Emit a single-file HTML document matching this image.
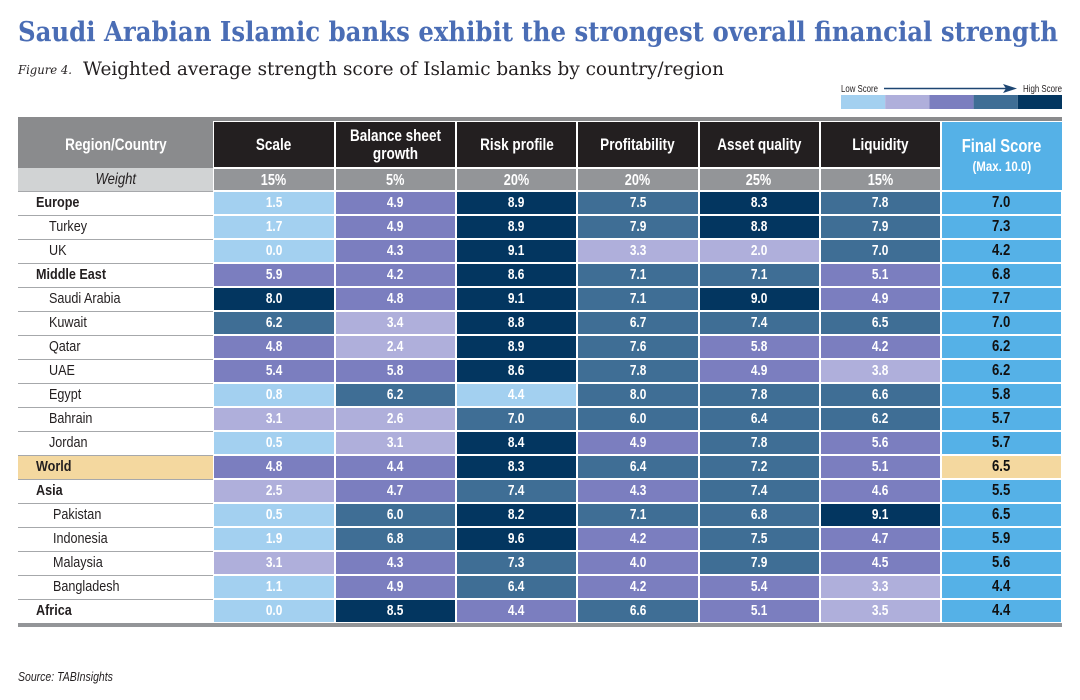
<!DOCTYPE html>
<html>
<head>
<meta charset="utf-8">
<style>
*{margin:0;padding:0;box-sizing:border-box;}
html,body{width:1080px;height:700px;background:#fff;overflow:hidden;}
body{position:relative;font-family:"Liberation Sans",sans-serif;}
.abs{position:absolute;}
.x{display:inline-block;transform:scaleX(.82);transform-origin:50% 50%;white-space:nowrap;}
.xl{display:inline-block;transform:scaleX(.84);transform-origin:0 50%;white-space:nowrap;}
.hdr{position:absolute;top:121px;height:47px;background:#231f20;border:1px solid #fff;color:#fff;font-weight:bold;font-size:16.5px;display:flex;align-items:center;justify-content:center;text-align:center;line-height:18px;padding-top:1px;}
.wt{position:absolute;top:168px;height:23px;background:#939598;border:1px solid #fff;color:#fff;font-weight:bold;font-size:15.5px;display:flex;align-items:center;justify-content:center;padding-top:2px;}
#rows{position:absolute;left:18px;top:190.5px;width:1044px;}
.r{display:flex;height:24.05px;}
.n{width:195px;height:24.05px;border-top:1.5px solid #a6a8ab;font-size:15px;color:#231f20;line-height:22px;padding-left:31px;white-space:nowrap;}
.n.b{font-weight:bold;padding-left:18px;}
.n.s2{padding-left:35px;}
.n.w{background:#f4d89f;}
.c{height:24.05px;border:1px solid #fff;color:#fff;font-weight:bold;font-size:14.5px;display:flex;align-items:center;justify-content:center;}
.c:nth-child(2){width:121.5px;}
.c:nth-child(3){width:121.5px;}
.c:nth-child(4){width:121px;}
.c:nth-child(5){width:121.5px;}
.c:nth-child(6){width:121px;}
.c:nth-child(7){width:121.5px;}
.c:nth-child(8){width:121px;background:#55b1e7;color:#111;font-size:16px;}
.c.fw{background:#f4d89f !important;}
.l1{background:#a3d0f0;}
.l2{background:#afafdb;}
.l3{background:#7b7ebf;}
.l4{background:#3f6e95;}
.l5{background:#033660;}
</style>
</head>
<body>
<svg class="abs" style="left:0;top:0" width="1080" height="110" xmlns="http://www.w3.org/2000/svg">
<text x="18" y="41" font-family="DejaVu Serif, Liberation Serif, serif" font-weight="bold" font-size="27" fill="#4a6db5" textLength="1040" lengthAdjust="spacingAndGlyphs">Saudi Arabian Islamic banks exhibit the strongest overall financial strength</text>
<text x="18" y="74" font-family="DejaVu Serif, Liberation Serif, serif" font-style="italic" font-size="12" fill="#231f20" textLength="54" lengthAdjust="spacingAndGlyphs">Figure 4.</text>
<text x="83" y="75" font-family="DejaVu Serif, Liberation Serif, serif" font-size="19" fill="#231f20" textLength="641" lengthAdjust="spacingAndGlyphs">Weighted average strength score of Islamic banks by country/region</text>
<text x="841" y="92" font-family="Liberation Sans, sans-serif" font-size="10" fill="#231f20" textLength="37" lengthAdjust="spacingAndGlyphs">Low Score</text>
<text x="1023" y="92" font-family="Liberation Sans, sans-serif" font-size="10" fill="#231f20" textLength="39" lengthAdjust="spacingAndGlyphs">High Score</text>
<line x1="884" y1="88.5" x2="1008" y2="88.5" stroke="#1d4672" stroke-width="1.5"/>
<polygon points="1003,84 1017,88.5 1003,93 1006,88.5" fill="#1d4672"/>
<rect x="841" y="95" width="44.2" height="14" fill="#a3d0f0"/>
<rect x="885.2" y="95" width="44.2" height="14" fill="#afafdb"/>
<rect x="929.4" y="95" width="44.2" height="14" fill="#7b7ebf"/>
<rect x="973.6" y="95" width="44.2" height="14" fill="#3f6e95"/>
<rect x="1017.8" y="95" width="44.2" height="14" fill="#033660"/>
</svg>

<div class="abs" style="left:18px;top:117px;width:1044px;height:5px;background:#8a8b8d;"></div>
<div class="abs" style="left:18px;top:117px;width:195px;height:51px;background:#8a8b8d;color:#fff;font-weight:bold;font-size:16.5px;display:flex;align-items:center;justify-content:center;padding-top:5px;"><span class="x">Region/Country</span></div>
<div class="hdr" style="left:213px;width:121.5px;"><span class="x">Scale</span></div>
<div class="hdr" style="left:334.5px;width:121.5px;"><span class="x">Balance sheet<br>growth</span></div>
<div class="hdr" style="left:456px;width:121px;"><span class="x">Risk profile</span></div>
<div class="hdr" style="left:577px;width:121.5px;"><span class="x">Profitability</span></div>
<div class="hdr" style="left:698.5px;width:121px;"><span class="x">Asset quality</span></div>
<div class="hdr" style="left:819.5px;width:121.5px;"><span class="x">Liquidity</span></div>
<div class="abs" style="left:941px;top:121px;width:121px;height:70px;background:#55b1e7;border:1px solid #fff;border-right:none;color:#fff;font-weight:bold;text-align:center;">
<div style="font-size:18px;margin-top:14px;line-height:21px;"><span class="x">Final Score</span></div>
<div style="font-size:14px;line-height:16px;margin-top:1px;"><span class="x">(Max. 10.0)</span></div>
</div>
<div class="abs" style="left:18px;top:168px;width:195px;height:22.5px;background:#d1d3d4;color:#231f20;font-style:italic;font-size:16px;display:flex;align-items:center;justify-content:center;padding-top:2px;"><span class="x">Weight</span></div>
<div class="wt" style="left:213px;width:121.5px;"><span class="x">15%</span></div>
<div class="wt" style="left:334.5px;width:121.5px;"><span class="x">5%</span></div>
<div class="wt" style="left:456px;width:121px;"><span class="x">20%</span></div>
<div class="wt" style="left:577px;width:121.5px;"><span class="x">20%</span></div>
<div class="wt" style="left:698.5px;width:121px;"><span class="x">25%</span></div>
<div class="wt" style="left:819.5px;width:121.5px;"><span class="x">15%</span></div>

<div id="rows">
<div class="r"><div class="n b"><span class="xl">Europe</span></div><div class="c l1"><span class="x">1.5</span></div><div class="c l3"><span class="x">4.9</span></div><div class="c l5"><span class="x">8.9</span></div><div class="c l4"><span class="x">7.5</span></div><div class="c l5"><span class="x">8.3</span></div><div class="c l4"><span class="x">7.8</span></div><div class="c"><span class="x">7.0</span></div></div>
<div class="r"><div class="n"><span class="xl">Turkey</span></div><div class="c l1"><span class="x">1.7</span></div><div class="c l3"><span class="x">4.9</span></div><div class="c l5"><span class="x">8.9</span></div><div class="c l4"><span class="x">7.9</span></div><div class="c l5"><span class="x">8.8</span></div><div class="c l4"><span class="x">7.9</span></div><div class="c"><span class="x">7.3</span></div></div>
<div class="r"><div class="n"><span class="xl">UK</span></div><div class="c l1"><span class="x">0.0</span></div><div class="c l3"><span class="x">4.3</span></div><div class="c l5"><span class="x">9.1</span></div><div class="c l2"><span class="x">3.3</span></div><div class="c l2"><span class="x">2.0</span></div><div class="c l4"><span class="x">7.0</span></div><div class="c"><span class="x">4.2</span></div></div>
<div class="r"><div class="n b"><span class="xl">Middle East</span></div><div class="c l3"><span class="x">5.9</span></div><div class="c l3"><span class="x">4.2</span></div><div class="c l5"><span class="x">8.6</span></div><div class="c l4"><span class="x">7.1</span></div><div class="c l4"><span class="x">7.1</span></div><div class="c l3"><span class="x">5.1</span></div><div class="c"><span class="x">6.8</span></div></div>
<div class="r"><div class="n"><span class="xl">Saudi Arabia</span></div><div class="c l5"><span class="x">8.0</span></div><div class="c l3"><span class="x">4.8</span></div><div class="c l5"><span class="x">9.1</span></div><div class="c l4"><span class="x">7.1</span></div><div class="c l5"><span class="x">9.0</span></div><div class="c l3"><span class="x">4.9</span></div><div class="c"><span class="x">7.7</span></div></div>
<div class="r"><div class="n"><span class="xl">Kuwait</span></div><div class="c l4"><span class="x">6.2</span></div><div class="c l2"><span class="x">3.4</span></div><div class="c l5"><span class="x">8.8</span></div><div class="c l4"><span class="x">6.7</span></div><div class="c l4"><span class="x">7.4</span></div><div class="c l4"><span class="x">6.5</span></div><div class="c"><span class="x">7.0</span></div></div>
<div class="r"><div class="n"><span class="xl">Qatar</span></div><div class="c l3"><span class="x">4.8</span></div><div class="c l2"><span class="x">2.4</span></div><div class="c l5"><span class="x">8.9</span></div><div class="c l4"><span class="x">7.6</span></div><div class="c l3"><span class="x">5.8</span></div><div class="c l3"><span class="x">4.2</span></div><div class="c"><span class="x">6.2</span></div></div>
<div class="r"><div class="n"><span class="xl">UAE</span></div><div class="c l3"><span class="x">5.4</span></div><div class="c l3"><span class="x">5.8</span></div><div class="c l5"><span class="x">8.6</span></div><div class="c l4"><span class="x">7.8</span></div><div class="c l3"><span class="x">4.9</span></div><div class="c l2"><span class="x">3.8</span></div><div class="c"><span class="x">6.2</span></div></div>
<div class="r"><div class="n"><span class="xl">Egypt</span></div><div class="c l1"><span class="x">0.8</span></div><div class="c l4"><span class="x">6.2</span></div><div class="c l1"><span class="x">4.4</span></div><div class="c l4"><span class="x">8.0</span></div><div class="c l4"><span class="x">7.8</span></div><div class="c l4"><span class="x">6.6</span></div><div class="c"><span class="x">5.8</span></div></div>
<div class="r"><div class="n"><span class="xl">Bahrain</span></div><div class="c l2"><span class="x">3.1</span></div><div class="c l2"><span class="x">2.6</span></div><div class="c l4"><span class="x">7.0</span></div><div class="c l4"><span class="x">6.0</span></div><div class="c l4"><span class="x">6.4</span></div><div class="c l4"><span class="x">6.2</span></div><div class="c"><span class="x">5.7</span></div></div>
<div class="r"><div class="n"><span class="xl">Jordan</span></div><div class="c l1"><span class="x">0.5</span></div><div class="c l2"><span class="x">3.1</span></div><div class="c l5"><span class="x">8.4</span></div><div class="c l3"><span class="x">4.9</span></div><div class="c l4"><span class="x">7.8</span></div><div class="c l3"><span class="x">5.6</span></div><div class="c"><span class="x">5.7</span></div></div>
<div class="r"><div class="n b w"><span class="xl">World</span></div><div class="c l3"><span class="x">4.8</span></div><div class="c l3"><span class="x">4.4</span></div><div class="c l5"><span class="x">8.3</span></div><div class="c l4"><span class="x">6.4</span></div><div class="c l4"><span class="x">7.2</span></div><div class="c l3"><span class="x">5.1</span></div><div class="c fw"><span class="x">6.5</span></div></div>
<div class="r"><div class="n b"><span class="xl">Asia</span></div><div class="c l2"><span class="x">2.5</span></div><div class="c l3"><span class="x">4.7</span></div><div class="c l4"><span class="x">7.4</span></div><div class="c l3"><span class="x">4.3</span></div><div class="c l4"><span class="x">7.4</span></div><div class="c l3"><span class="x">4.6</span></div><div class="c"><span class="x">5.5</span></div></div>
<div class="r"><div class="n s2"><span class="xl">Pakistan</span></div><div class="c l1"><span class="x">0.5</span></div><div class="c l4"><span class="x">6.0</span></div><div class="c l5"><span class="x">8.2</span></div><div class="c l4"><span class="x">7.1</span></div><div class="c l4"><span class="x">6.8</span></div><div class="c l5"><span class="x">9.1</span></div><div class="c"><span class="x">6.5</span></div></div>
<div class="r"><div class="n s2"><span class="xl">Indonesia</span></div><div class="c l1"><span class="x">1.9</span></div><div class="c l4"><span class="x">6.8</span></div><div class="c l5"><span class="x">9.6</span></div><div class="c l3"><span class="x">4.2</span></div><div class="c l4"><span class="x">7.5</span></div><div class="c l3"><span class="x">4.7</span></div><div class="c"><span class="x">5.9</span></div></div>
<div class="r"><div class="n s2"><span class="xl">Malaysia</span></div><div class="c l2"><span class="x">3.1</span></div><div class="c l3"><span class="x">4.3</span></div><div class="c l4"><span class="x">7.3</span></div><div class="c l3"><span class="x">4.0</span></div><div class="c l4"><span class="x">7.9</span></div><div class="c l3"><span class="x">4.5</span></div><div class="c"><span class="x">5.6</span></div></div>
<div class="r"><div class="n s2"><span class="xl">Bangladesh</span></div><div class="c l1"><span class="x">1.1</span></div><div class="c l3"><span class="x">4.9</span></div><div class="c l4"><span class="x">6.4</span></div><div class="c l3"><span class="x">4.2</span></div><div class="c l3"><span class="x">5.4</span></div><div class="c l2"><span class="x">3.3</span></div><div class="c"><span class="x">4.4</span></div></div>
<div class="r"><div class="n b"><span class="xl">Africa</span></div><div class="c l1"><span class="x">0.0</span></div><div class="c l5"><span class="x">8.5</span></div><div class="c l3"><span class="x">4.4</span></div><div class="c l4"><span class="x">6.6</span></div><div class="c l3"><span class="x">5.1</span></div><div class="c l2"><span class="x">3.5</span></div><div class="c"><span class="x">4.4</span></div></div>
</div>

<div class="abs" style="left:18px;top:623px;width:1044px;height:4px;background:#939598;"></div>

<div class="abs" style="left:18px;top:670px;font-size:12.5px;font-style:italic;color:#231f20;"><span class="xl">Source: TABInsights</span></div>
</body>
</html>
